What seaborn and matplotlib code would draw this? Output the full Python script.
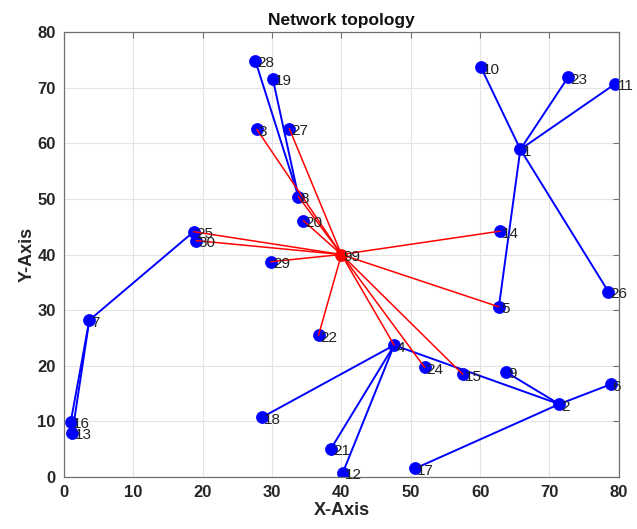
import matplotlib
matplotlib.use("Agg")
import matplotlib.pyplot as plt
import pandas as pd
import seaborn as sns

# Sensor node positions (field coordinates)
node_ids = list(range(1, 31))
node_x = [65.8, 71.4, 27.8, 47.6, 62.7, 78.8, 3.65, 33.8, 63.7, 60.1,
          79.5, 40.2, 1.2, 62.9, 57.5, 0.97, 50.65, 28.5, 30.1, 34.5,
          38.5, 36.7, 72.7, 52.0, 18.7, 78.5, 32.5, 27.6, 29.8, 19.05]
node_y = [58.9, 13.1, 62.5, 23.7, 30.6, 16.65, 28.2, 50.4, 18.9, 73.7,
          70.7, 0.76, 7.95, 44.2, 18.45, 9.93, 1.55, 10.7, 71.6, 46.1,
          5.1, 25.5, 71.9, 19.7, 44.1, 33.3, 62.6, 74.8, 38.7, 42.5]

# Base station
sink_label = "99"
sink_x = 40.0
sink_y = 40.0

# Node-to-node links (member -> parent)
member_links = [(28, 8), (19, 8), (10, 1), (23, 1), (11, 1), (26, 1), (1, 5),
                (25, 7), (7, 16), (7, 13), (18, 4), (21, 4), (12, 4), (2, 4),
                (9, 2), (6, 2), (17, 2)]
# Nodes reporting directly to the base station
sink_links = [3, 27, 8, 20, 25, 30, 29, 22, 14, 5, 4, 24, 15]

pos = {i: (x, y) for i, x, y in zip(node_ids, node_x, node_y)}

rows = []
for k, (a, b) in enumerate(member_links):
    for n in (a, b):
        rows.append({"edge": k, "x": pos[n][0], "y": pos[n][1]})
member_df = pd.DataFrame(rows)

rows = []
for k, n in enumerate(sink_links):
    rows.append({"edge": k, "x": pos[n][0], "y": pos[n][1]})
    rows.append({"edge": k, "x": sink_x, "y": sink_y})
sink_df = pd.DataFrame(rows)

nodes_df = pd.DataFrame({"id": node_ids, "x": node_x, "y": node_y})
sink_df_pt = pd.DataFrame({"x": [sink_x], "y": [sink_y]})

sns.set_style("white")
plt.rcParams["font.family"] = ["Liberation Sans", "DejaVu Sans"]

fig = plt.figure(figsize=(6.37, 5.29), dpi=100)
ax = fig.add_axes([0.1005, 0.0983, 0.871, 0.8412])

sns.scatterplot(data=nodes_df, x="x", y="y", ax=ax, s=75, color="blue",
                edgecolor="blue", linewidth=0.5, zorder=2, legend=False)
sns.scatterplot(data=sink_df_pt, x="x", y="y", ax=ax, s=75, color="red",
                edgecolor="red", linewidth=0.5, zorder=2, legend=False)

sns.lineplot(data=member_df, x="x", y="y", units="edge", estimator=None,
             sort=False, color="blue", linewidth=1.4, ax=ax, zorder=3)
sns.lineplot(data=sink_df, x="x", y="y", units="edge", estimator=None,
             sort=False, color="red", linewidth=1.1, ax=ax, zorder=3)

for i, x, y in zip(node_ids, node_x, node_y):
    ax.text(x + 0.3, y - 0.45, str(i), fontsize=11, color="#222222",
            ha="left", va="center", zorder=4)
ax.text(sink_x + 0.3, sink_y - 0.45, sink_label, fontsize=11,
        color="#222222", ha="left", va="center", zorder=4)

ax.set_xlim(0, 80)
ax.set_ylim(0, 80)
ax.set_xticks(range(0, 81, 10))
ax.set_yticks(range(0, 81, 10))
ax.grid(True, color="#e3e3e3", linewidth=0.8, zorder=0)
ax.set_axisbelow(True)
ax.tick_params(direction="in", length=4, width=0.8, color="#707070",
               top=True, right=True, labelsize=12, pad=6)
for lab in ax.get_xticklabels() + ax.get_yticklabels():
    lab.set_fontweight("bold")
    lab.set_color("#262626")
for sp in ax.spines.values():
    sp.set_color("#707070")
    sp.set_linewidth(0.9)

ax.set_title("Network topology", fontsize=12.5, fontweight="bold",
             color="#111111", pad=5)
ax.set_xlabel("X-Axis", fontsize=13, fontweight="bold", color="#262626",
              labelpad=1)
ax.set_ylabel("Y-Axis", fontsize=13, fontweight="bold", color="#262626",
              labelpad=1)

fig.savefig("out.png", dpi=100)
